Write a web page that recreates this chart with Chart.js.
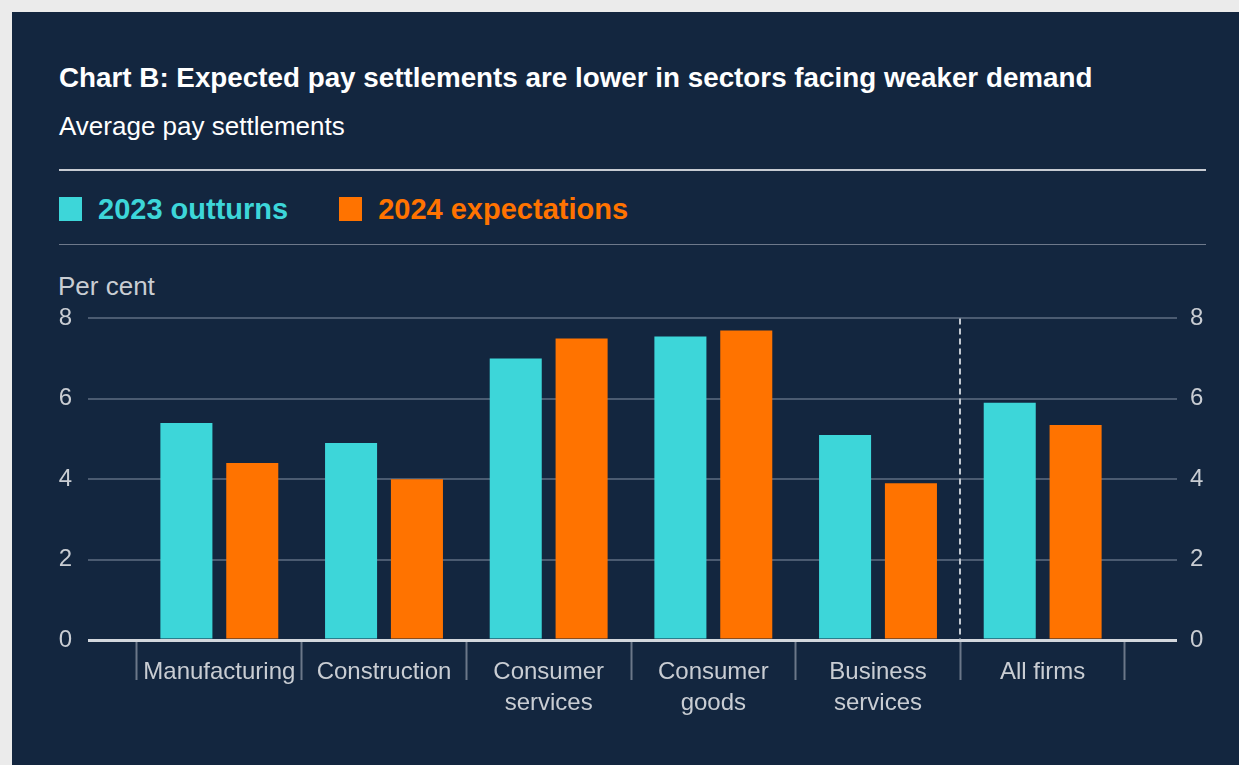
<!DOCTYPE html>
<html>
<head>
<meta charset="utf-8">
<script src="https://cdn.jsdelivr.net/npm/chart.js@4/dist/chart.umd.min.js"></script>
<style>
  html, body { margin: 0; padding: 0; width: 1239px; height: 765px; overflow: hidden; background: #ebebeb; font-family: "Liberation Sans", Arial, sans-serif; }
  .panel { position: absolute; left: 12px; top: 12px; right: 0; bottom: 0; background: #13263f; }
  .title { position: absolute; left: 59px; top: 60px; margin: 0; font-size: 27.8px; font-weight: bold; color: #ffffff; line-height: 36px; white-space: nowrap; }
  .subtitle { position: absolute; left: 59px; top: 109px; margin: 0; font-size: 26px; color: #ffffff; line-height: 34px; white-space: nowrap; }
  .rule-top { position: absolute; left: 59px; width: 1147px; top: 169px; height: 2px; background: #c7cbd2; }
  .rule-bottom { position: absolute; left: 59px; width: 1147px; top: 244px; height: 1px; background: #6e798b; }
  .legend { position: absolute; top: 195px; left: 59px; height: 28px; display: flex; align-items: center; }
  .legend .item { display: flex; align-items: center; font-size: 29px; font-weight: bold; line-height: 28px; }
  .legend .swatch { width: 23px; height: 24px; margin-right: 16px; }
  .ylabel { position: absolute; left: 58px; top: 272px; font-size: 26px; color: #c9cdd3; line-height: 28px; }
  #chart { position: absolute; left: 0; top: 288px; }
</style>
</head>
<body>
<div class="panel"></div>
<div class="title">Chart B: Expected pay settlements are lower in sectors facing weaker demand</div>
<div class="subtitle">Average pay settlements</div>
<div class="rule-top"></div>
<div class="legend" id="legend"></div>
<div class="rule-bottom"></div>
<div class="ylabel">Per cent</div>
<canvas id="chart" width="1239" height="477"></canvas>
<script>
// Sectors (multi-line labels) and average pay settlements, per cent
const categories = [
  ['Manufacturing'],
  ['Construction'],
  ['Consumer', 'services'],
  ['Consumer', 'goods'],
  ['Business', 'services'],
  ['All firms']
];
const outturns2023 = [5.4, 4.9, 7.0, 7.55, 5.1, 5.9];
const expectations2024 = [4.4, 4.0, 7.5, 7.7, 3.9, 5.35];
const seriesNames = ['2023 outturns', '2024 expectations'];
const yTicks = [0, 2, 4, 6, 8];

const TEAL = '#3dd6d9';
const ORANGE = '#ff7300';
const TEXT = '#c9cdd3';
const GRID = '#4b5b71';
const ZERO = '#d3d7dd';
const DIVIDER = '#6b7789';

// Legend in the header
const legendEl = document.getElementById('legend');
[[seriesNames[0], TEAL], [seriesNames[1], ORANGE]].forEach(([name, col], i) => {
  const item = document.createElement('div');
  item.className = 'item';
  item.style.color = col;
  if (i > 0) item.style.marginLeft = '51px';
  const sw = document.createElement('span');
  sw.className = 'swatch';
  sw.style.background = col;
  item.appendChild(sw);
  item.appendChild(document.createTextNode(name));
  legendEl.appendChild(item);
});

// Dashed separator between the sectors and the all-firms aggregate
const separator = {
  id: 'separator',
  beforeDatasetsDraw(chart) {
    const x = chart.scales.x;
    const area = chart.chartArea;
    const px = (x.getPixelForValue(categories.length - 2) + x.getPixelForValue(categories.length - 1)) / 2;
    const ctx = chart.ctx;
    ctx.save();
    ctx.strokeStyle = '#c3c9d1';
    ctx.lineWidth = 2;
    ctx.setLineDash([6, 4]);
    ctx.beginPath();
    ctx.moveTo(Math.round(px), area.top);
    ctx.lineTo(Math.round(px), area.bottom);
    ctx.stroke();
    ctx.restore();
  }
};

const gridColor = (ctx) => (ctx.tick && ctx.tick.value === 0 ? ZERO : GRID);
const gridWidth = (ctx) => (ctx.tick && ctx.tick.value === 0 ? 3 : 2);
const tickFont = { family: '"Liberation Sans", Arial, sans-serif', size: 24 };

new Chart(document.getElementById('chart'), {
  type: 'bar',
  data: {
    labels: categories,
    datasets: [
      { label: seriesNames[0], data: outturns2023, backgroundColor: TEAL, yAxisID: 'y' },
      { label: seriesNames[1], data: expectations2024, backgroundColor: ORANGE, yAxisID: 'y' }
    ]
  },
  options: {
    responsive: false,
    animation: false,
    devicePixelRatio: 1,
    categoryPercentage: 0.8,
    barPercentage: 0.79,
    layout: { padding: { top: 26, left: 0, right: 0, bottom: 0 } },
    plugins: { legend: { display: false }, tooltip: { enabled: false } },
    scales: {
      x: {
        border: { display: false },
        grid: {
          offset: true,
          drawOnChartArea: false,
          drawTicks: true,
          tickLength: 40,
          tickColor: DIVIDER,
          tickWidth: 2
        },
        ticks: {
          color: TEXT,
          font: Object.assign({ lineHeight: 1.3125 }, tickFont),
          padding: -23.75,
          maxRotation: 0,
          autoSkip: false
        },
        afterFit(axis) { axis.height = 125; }
      },
      y: {
        position: 'left',
        min: 0,
        max: 8,
        border: { display: false },
        grid: { color: gridColor, lineWidth: gridWidth, drawTicks: true, tickLength: 49 },
        ticks: {
          stepSize: 2,
          color: TEXT,
          font: tickFont,
          padding: 16,
          callback: (v) => (yTicks.includes(v) ? String(v) : '')
        },
        afterFit(axis) { axis.width = 137; }
      },
      y2: {
        position: 'right',
        min: 0,
        max: 8,
        border: { display: false },
        grid: { color: gridColor, lineWidth: gridWidth, drawOnChartArea: false, drawTicks: true, tickLength: 52 },
        ticks: {
          stepSize: 2,
          color: TEXT,
          font: tickFont,
          padding: 13,
          callback: (v) => (yTicks.includes(v) ? String(v) : '')
        },
        afterFit(axis) { axis.width = 114; }
      }
    }
  },
  plugins: [separator]
});
</script>
</body>
</html>
